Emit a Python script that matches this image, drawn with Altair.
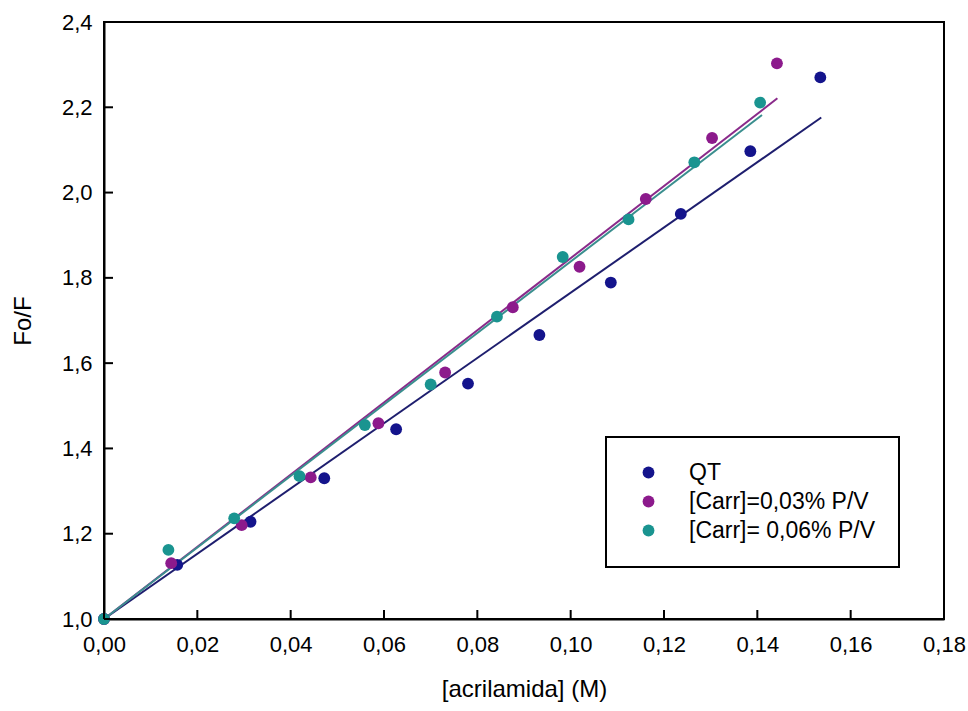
import altair as alt
import pandas as pd

series_names = ["QT", "[Carr]=0,03% P/V", "[Carr]= 0,06% P/V"]
point_colors = ["#14148c", "#8c1a8c", "#1a9490"]
line_colors = ["#1e1e6e", "#8a2a8a", "#3a8e8e"]

qt_x = [0.0, 0.0157, 0.0314, 0.0472, 0.0626, 0.0780, 0.0933, 0.1086, 0.1236, 0.1385, 0.1535]
qt_y = [1.0, 1.127, 1.228, 1.330, 1.445, 1.552, 1.666, 1.789, 1.950, 2.097, 2.270]

c03_x = [0.0, 0.0144, 0.0295, 0.0443, 0.0588, 0.0731, 0.0876, 0.1019, 0.1161, 0.1303, 0.1442]
c03_y = [1.0, 1.131, 1.220, 1.332, 1.459, 1.578, 1.731, 1.826, 1.985, 2.128, 2.303]

c06_x = [0.0, 0.0138, 0.0279, 0.0419, 0.0559, 0.0700, 0.0842, 0.0983, 0.1124, 0.1265, 0.1406]
c06_y = [1.0, 1.162, 1.236, 1.335, 1.455, 1.550, 1.709, 1.849, 1.937, 2.071, 2.211]

# fitted lines (start / end)
fit_x0 = [0.0, 0.0, 0.0]
fit_y0 = [1.0, 1.0, 1.0]
fit_x1 = [0.1537, 0.1443, 0.1410]
fit_y1 = [2.176, 2.221, 2.182]

x_ticks = [0.00, 0.02, 0.04, 0.06, 0.08, 0.10, 0.12, 0.14, 0.16, 0.18]
y_ticks = [1.0, 1.2, 1.4, 1.6, 1.8, 2.0, 2.2, 2.4]

rows = []
for name, xs, ys in zip(series_names, [qt_x, c03_x, c06_x], [qt_y, c03_y, c06_y]):
    for a, b in zip(xs, ys):
        rows.append({"series": name, "x": a, "y": b})
pts = pd.DataFrame(rows)

frows = []
for i, name in enumerate(series_names):
    frows.append({"series": name, "x": fit_x0[i], "y": fit_y0[i], "o": 0})
    frows.append({"series": name, "x": fit_x1[i], "y": fit_y1[i], "o": 1})
fits = pd.DataFrame(frows)

xt = pd.DataFrame({"v": x_ticks})
yt = pd.DataFrame({"v": y_ticks})

W, H = 840, 597
FONT = "Liberation Sans"
TICK = 9

xscale = alt.Scale(domain=[0, 0.18], nice=False, zero=False)
yscale = alt.Scale(domain=[1.0, 2.4], nice=False, zero=False)
xaxis = alt.Axis(values=x_ticks, title="[acrilamida] (M)",
                 labelExpr="replace(format(datum.value, '.2f'), '.', ',')",
                 labelFlush=False, labelOverlap=False,
                 labelPadding=15, titlePadding=22)
yaxis = alt.Axis(values=y_ticks, title="Fo/F",
                 labelExpr="replace(format(datum.value, '.1f'), '.', ',')",
                 labelFlush=False, labelOverlap=False,
                 labelPadding=12, titlePadding=26)

lines = alt.Chart(fits).mark_line(strokeWidth=2).encode(
    x=alt.X("x:Q", scale=xscale, axis=xaxis),
    y=alt.Y("y:Q", scale=yscale, axis=yaxis),
    color=alt.Color("series:N", scale=alt.Scale(domain=series_names, range=line_colors), legend=None),
    order="o:Q",
)

points = alt.Chart(pts).mark_circle(size=140, opacity=1).encode(
    x=alt.X("x:Q", scale=xscale, axis=xaxis),
    y=alt.Y("y:Q", scale=yscale, axis=yaxis),
    color=alt.Color(
        "series:N",
        scale=alt.Scale(domain=series_names, range=point_colors),
        sort=series_names,
        legend=alt.Legend(
            title=None, orient="none", legendX=502, legendY=415,
            strokeColor="black", fillColor="white", padding=24,
            symbolOffset=7, labelOffset=29, rowPadding=5,
            labelFontSize=23, labelFont=FONT, labelColor="black",
            symbolSize=140, symbolType="circle", symbolOpacity=1,
            labelLimit=400,
        ),
    ),
)

xtick_marks = alt.Chart(xt).mark_rule(color="black", strokeWidth=2).encode(
    x=alt.X("v:Q", scale=xscale, axis=xaxis),
    y=alt.value(H),
    y2=alt.value(H - TICK),
)
ytick_marks = alt.Chart(yt).mark_rule(color="black", strokeWidth=2).encode(
    y=alt.Y("v:Q", scale=yscale, axis=yaxis),
    x=alt.value(0),
    x2=alt.value(TICK),
)

chart = alt.layer(lines, points, xtick_marks, ytick_marks).resolve_scale(
    color="independent"
).properties(
    width=W, height=H,
    padding={"left": 104, "top": 22, "right": 24, "bottom": 92},
    autosize=alt.AutoSizeParams(type="none"),
    background="white",
).configure_view(
    stroke="black", strokeWidth=2
).configure_axis(
    grid=False, ticks=False, tickSize=0,
    domainColor="black", domainWidth=2,
    labelFont=FONT, labelFontSize=22, labelColor="black",
    titleFont=FONT, titleFontSize=24, titleFontWeight="normal", titleColor="black",
).configure_legend(
    strokeWidth=2
)

chart.save("out.html", embed_options={"renderer": "svg", "actions": False})
